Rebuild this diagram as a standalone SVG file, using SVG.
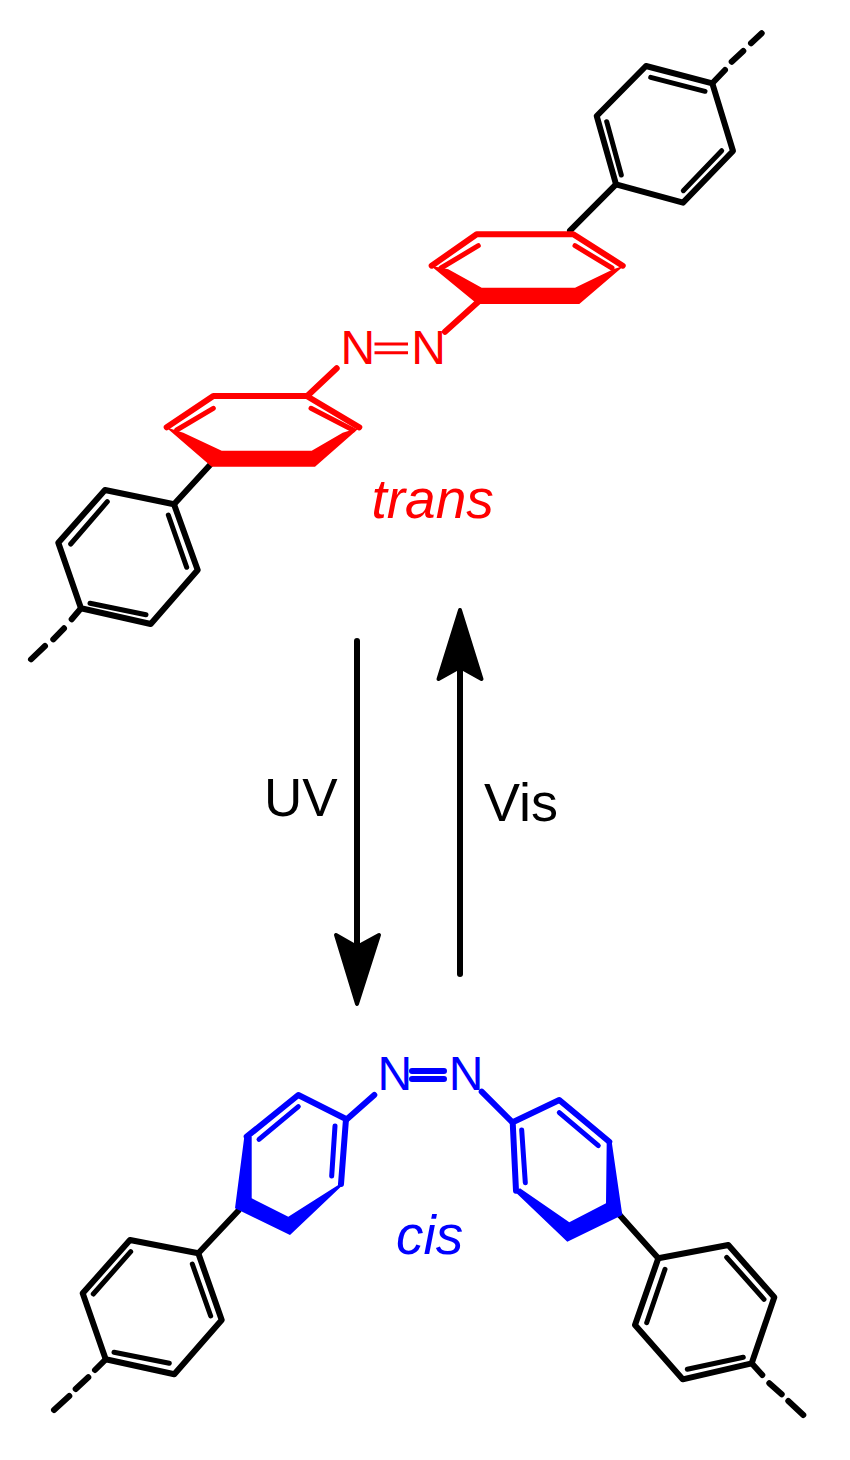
<svg xmlns="http://www.w3.org/2000/svg" width="850" height="1460" viewBox="0 0 850 1460">
<style>
text{font-family:"Liberation Sans",Arial,sans-serif;font-size:48px}
.l{fill:none;stroke-width:6;stroke-linecap:round;stroke-linejoin:round}
.n{stroke-width:5}
.k{stroke:#000}.r{stroke:#f00}.b{stroke:#00f}
.th{stroke-width:3;stroke-linecap:butt}
.big{font-size:54px}
.uv{font-size:53px}
.i{font-style:italic;font-size:55px}
.h{fill:#000;stroke:#000;stroke-width:4;stroke-linejoin:round}
</style>
<rect width="850" height="1460" fill="#fff"/>
<g id="connectors">
<path class="l k" d="M357 641V960"/><polygon class="h" points="357,1004 336,935 357,947 379,935"/>
<path class="l k" d="M460 974V660"/><polygon class="h" points="460,610 438.500,679 460,667 481.500,679"/>
<path class="l k" d="M616 184.300L570 230.700M210 465L174 504.300M238.300 1210.700L198.300 1253.300M616.700 1211.700L658.300 1258.300"/>
<path class="l r" d="M478.300 301.700L445 331.700M308.300 395L336.700 368.300"/>
<path class="l b" d="M374.300 1095L346 1120M481.700 1091.700L511.700 1121.700"/>
</g>
<g id="phenyl-top-right">
<path class="l k" d="M646 66L712.300 83.300L733 151L683 202.700L616 184.300L596.700 116Z"/>
<path class="l n k" d="M650.700 77.300L705 91.300M606.700 121.700L621.300 175M721.700 150.700L683.300 190.700"/>
<path class="l k" d="M712.300 83.300L725 70M731.700 61.700L743.300 51M751 43.300L761.700 33.300"/>
</g>
<g id="phenyl-top-left">
<path class="l k" d="M105 490L174 504.300L197.700 570L150.700 624L81 608.300L58.300 542.700Z"/>
<path class="l n k" d="M107.300 501.700L70.700 544M168.300 515L186.700 567.300M90 603.300L146 614.700"/>
<path class="l k" d="M81 608.300L71.700 619.300M64 628.300L53.300 639.300M45 646L31 659.300"/>
</g>
<g id="phenyl-bottom-left">
<path class="l k" d="M130 1240L198.300 1253.300L221.700 1320L174.300 1374.300L105.700 1359.300L82.700 1293.300Z"/>
<path class="l n k" d="M130.700 1251.700L93.300 1294M192.300 1264L210.700 1316M114 1352.300L169.300 1363.300"/>
<path class="l k" d="M105.700 1359.300L95 1370M88.300 1377.300L75.700 1389M69.300 1396L54 1410"/>
</g>
<g id="phenyl-bottom-right">
<path class="l k" d="M658.300 1258.300L728.300 1245L774.300 1297.300L751.700 1363.300L682.700 1379.300L635 1325Z"/>
<path class="l n k" d="M726.700 1257.300L764 1299.300M665 1269.300L646.700 1322.700M743.300 1357.300L687.300 1369.300"/>
<path class="l k" d="M751.700 1363.300L762.300 1375M769.300 1383.300L781.700 1394.300M788.300 1401L803.300 1415"/>
</g>
<g id="ring-trans-upper" fill="#f00">
<polygon points="430.700,265.700 477.300,304 579.300,304 624,265.700 613.300,269.300 575,287.700 481.700,287.700 448.300,269.300"/>
<path class="l r" d="M431.700 265.700L476.700 234.300H573.300L622.700 265.700"/>
<path class="l n r" d="M478.300 245.700L441 268M575 245.700L612 268"/>
</g>
<g id="ring-trans-lower" fill="#f00">
<polygon points="166,427.300 211.700,466.700 315,466.700 360,427.300 342.700,432.700 311.700,450.700 221.700,450.700 183.300,432.700"/>
<path class="l r" d="M166.700 427.300L213.300 396H306.700L359.300 427.300"/>
<path class="l n r" d="M213.300 408.300L176.700 430M311 408.300L353 430"/>
</g>
<g id="azo-trans">
<text x="340.400" y="364" fill="#f00">N</text>
<text x="411.300" y="364" fill="#f00">N</text>
<path class="l r th" d="M374.500 344H408M374.500 352.700H408"/>
</g>
<g id="ring-cis-left" fill="#00f">
<polygon points="244.300,1136.700 251.700,1136.700 251.700,1198.300 288.300,1216.700 338.300,1185 342.700,1185 290,1235 235,1208.300"/>
<path class="l b" d="M246.700 1136.700L298.300 1095L346 1119L341 1184"/>
<path class="l n b" d="M298.300 1106.700L259 1139.300M335 1126L331.700 1176"/>
</g>
<g id="ring-cis-right" fill="#00f">
<polygon points="606.700,1141.700 611.700,1141.700 622.300,1215 567.300,1241.700 515,1191.700 520,1188.300 569.300,1222.300 606,1203.300"/>
<path class="l b" d="M516 1190.700L512.700 1122.300L559.300 1100L609.300 1141.700"/>
<path class="l n b" d="M559.300 1112.700L598.300 1145.700M521.700 1130L525.300 1182.700"/>
</g>
<g id="azo-cis">
<text x="377.400" y="1090" fill="#00f">N</text>
<text x="448.700" y="1090" fill="#00f">N</text>
<path class="l b" d="M412 1071H444M412 1079H444"/>
</g>
<g id="labels">
<text x="371.500" y="518" class="i" fill="#f00">trans</text>
<text x="396" y="1254" class="i" fill="#00f">cis</text>
<text x="264" y="816" class="uv">UV</text>
<text x="484" y="821" class="big">Vis</text>
</g>
</svg>
